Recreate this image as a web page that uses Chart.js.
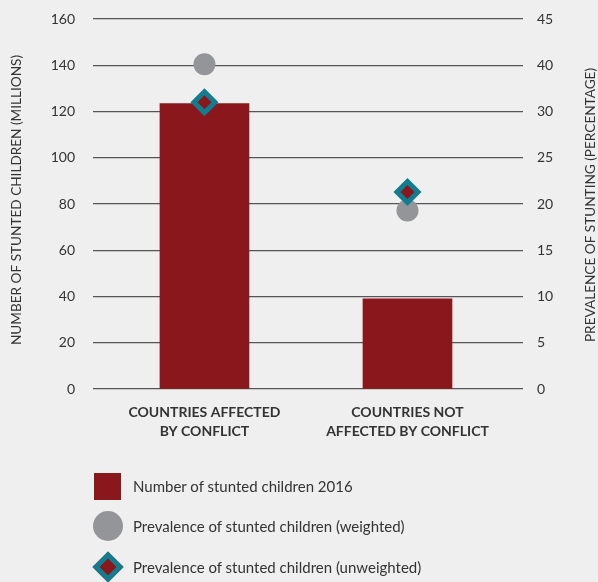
<!DOCTYPE html>
<html>
<head>
<meta charset="utf-8">
<script src="https://cdn.jsdelivr.net/npm/chart.js@4.4.1/dist/chart.umd.min.js"></script>
<style>
  body { margin: 0; background: #efefef; font-family: Lato, "Open Sans", sans-serif; }
  #wrap { position: relative; width: 598px; height: 582px; }
  #myChart { position: absolute; left: 0; top: 0; }
  .leyenda { position: absolute; left: 0; top: 0; width: 598px; height: 582px; pointer-events: none; }
  .item { position: absolute; left: 133px; font-size: 15px; color: #333; line-height: 20px; }
  .marca { position: absolute; }
</style>
</head>
<body>
<div id="wrap">
  <canvas id="myChart" width="598" height="582"></canvas>
  <div class="leyenda" id="leyenda"></div>
</div>
<script>
// datos
let categorias = [["COUNTRIES AFFECTED", "BY CONFLICT"], ["COUNTRIES NOT", "AFFECTED BY CONFLICT"]];
let ninosRetraso = [123.4, 39.0];          // millones
let prevalenciaPonderada = [35.1, 19.3];    // %
let prevalenciaNoPonderada = [31.0, 21.3];  // %
let etiquetasDerecha = ["0", "5", "10", "15", "20", "25", "30", "40", "45"];
let nombresSeries = [
    "Number of stunted children 2016",
    "Prevalence of stunted children (weighted)",
    "Prevalence of stunted children (unweighted)"
];
let tituloIzq = "NUMBER OF STUNTED CHILDREN (MILLIONS)";
let tituloDer = "PREVALENCE OF STUNTING (PERCENTAGE)";

let rojo = "#8a171c";
let gris = "#939598";
let verde = "#127d8f";
let texto = "#333333";
let fuente = "Lato, 'Open Sans', sans-serif";

function puntos(valores) {
    return valores.map((v, i) => ({ x: i, y: v }));
}

// titulos de los ejes (los dos se leen de abajo hacia arriba)
function tituloVertical(c, txt, x, y) {
    c.save();
    c.fillStyle = texto;
    c.font = "13.6px " + fuente;
    c.textAlign = "center";
    c.textBaseline = "middle";
    c.translate(x, y);
    c.rotate(-Math.PI / 2);
    c.fillText(txt, 0, 0);
    c.restore();
}

let titulosEjes = {
    id: "titulosEjes",
    afterDraw(chart) {
        tituloVertical(chart.ctx, tituloIzq, 17, 200);
        tituloVertical(chart.ctx, tituloDer, 591, 205);
    }
};

// ancho fijo de los ejes verticales, sin relleno extra arriba/abajo
function ajusteVertical(ancho) {
    return (eje) => {
        eje.width = ancho;
        eje.paddingTop = 0;
        eje.paddingBottom = 0;
    };
}

let ctx = document.getElementById("myChart").getContext("2d");
let myChart = new Chart(ctx, {
    type: "bar",
    data: {
        datasets: [{
            label: nombresSeries[0],
            data: puntos(ninosRetraso),
            backgroundColor: rojo,
            barThickness: 89,
            yAxisID: "y",
            order: 3
        }, {
            type: "line",
            label: nombresSeries[1],
            data: puntos(prevalenciaPonderada),
            showLine: false,
            pointStyle: "circle",
            pointRadius: 11,
            pointBackgroundColor: gris,
            pointBorderWidth: 0,
            yAxisID: "y2",
            order: 2
        }, {
            type: "line",
            label: nombresSeries[2],
            data: puntos(prevalenciaNoPonderada),
            showLine: false,
            pointStyle: "rectRot",
            pointRadius: 10.5,
            pointBackgroundColor: rojo,
            pointBorderColor: verde,
            pointBorderWidth: 5,
            yAxisID: "y2",
            order: 1
        }]
    },
    options: {
        responsive: false,
        animation: false,
        layout: { padding: { top: 19, left: 0, right: 0, bottom: 0 } },
        plugins: {
            legend: { display: false },
            tooltip: { enabled: false }
        },
        scales: {
            x: {
                type: "linear",
                offset: false,
                min: -0.549,
                max: 1.569,
                grid: { display: false },
                border: { display: false },
                afterBuildTicks: (eje) => { eje.ticks = [{ value: 0 }, { value: 1 }]; },
                afterFit: (eje) => { eje.height = 193; },
                ticks: {
                    autoSkip: false,
                    maxRotation: 0,
                    padding: 6,
                    color: texto,
                    font: { family: fuente, size: 14, weight: "bold", lineHeight: 1.35 },
                    callback: (v) => categorias[v]
                }
            },
            y: {
                position: "left",
                min: 0,
                max: 160,
                grid: { color: "#555555", lineWidth: 1.2, drawTicks: false },
                border: { display: false },
                afterFit: ajusteVertical(93),
                ticks: {
                    stepSize: 20,
                    padding: 18,
                    color: texto,
                    font: { family: fuente, size: 14 }
                }
            },
            y2: {
                position: "right",
                min: 0,
                max: 40,
                grid: { display: false, drawTicks: false },
                border: { display: false },
                afterFit: ajusteVertical(75),
                ticks: {
                    stepSize: 5,
                    padding: 14,
                    color: texto,
                    font: { family: fuente, size: 14 },
                    callback: (v, i) => etiquetasDerecha[i]
                }
            }
        }
    },
    plugins: [titulosEjes]
});

// leyenda
let leyenda = document.getElementById("leyenda");
let filas = [486, 526, 567];
nombresSeries.forEach((nombre, i) => {
    let t = document.createElement("div");
    t.className = "item";
    t.style.top = (filas[i] - 10) + "px";
    t.textContent = nombre;
    leyenda.appendChild(t);
    let m = document.createElement("div");
    m.className = "marca";
    if (i == 0) {
        m.style.cssText = `left:94px;top:${filas[i] - 13}px;width:27px;height:27px;background:${rojo};`;
    } else if (i == 1) {
        m.style.cssText = `left:93px;top:${filas[i] - 15}px;width:30px;height:30px;border-radius:50%;background:${gris};`;
    } else {
        m.style.cssText = `left:97px;top:${filas[i] - 11}px;width:22px;height:22px;box-sizing:border-box;border:5px solid ${verde};background:${rojo};transform:rotate(45deg);`;
    }
    leyenda.appendChild(m);
});
</script>
</body>
</html>
